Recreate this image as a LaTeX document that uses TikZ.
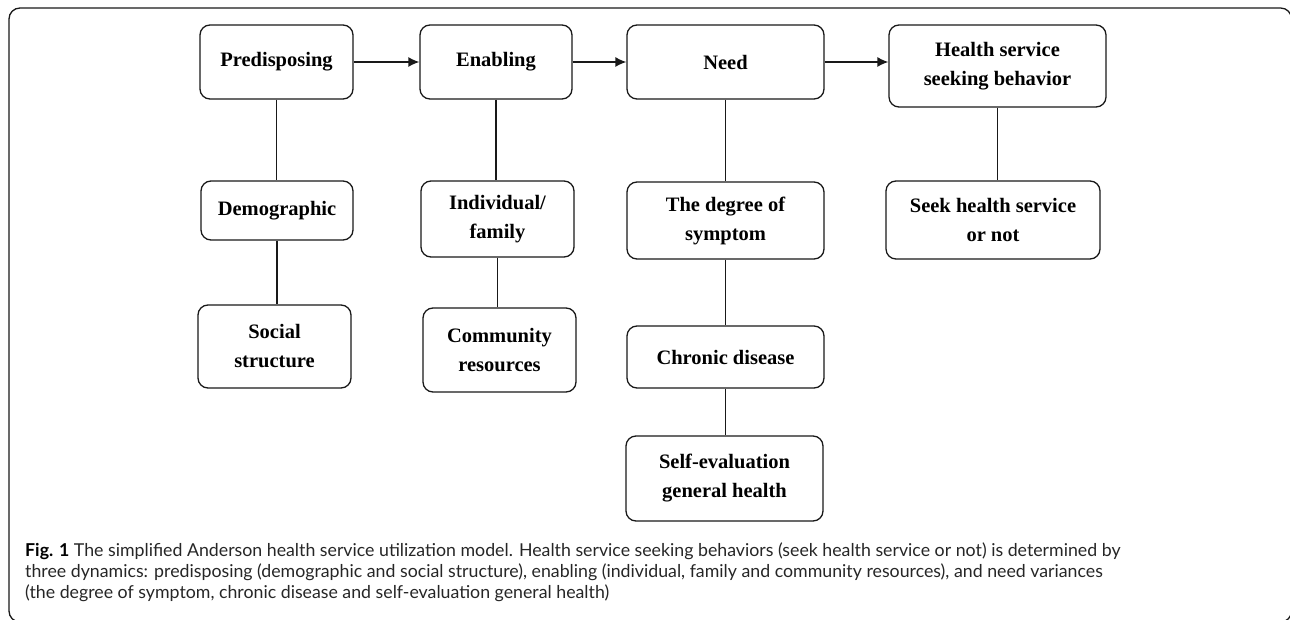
\documentclass[tikz,border=0pt]{standalone}
\usepackage{fontspec}
\setmainfont{Liberation Serif}
\newfontfamily\capfont{Lato}
\usetikzlibrary{arrows.meta}
\begin{document}
\begin{tikzpicture}[x=1pt,y=-1pt,
  box/.style={draw=black!90, line width=1.3pt, rounded corners=10pt, inner sep=0pt, align=center,
    font=\fontsize{20.5}{29}\selectfont\bfseries},
  conn/.style={line width=1.3pt, draw=black!90},
  arr/.style={conn, -{Latex[length=11pt,width=10pt]}},
  captext/.style={anchor=base west, inner sep=0pt, text=black!85, font=\capfont\fontsize{17.75}{21}\selectfont}]
\useasboundingbox (0,0) rectangle (1290,620);
\draw[line width=1.3pt, rounded corners=11pt, draw=black!90] (9,8) rectangle (1291.6,622);
% top row
\node[box, minimum width=153pt, minimum height=74pt] (pre) at (276.5,62) {Predisposing};
\node[box, minimum width=152pt, minimum height=74pt] (ena) at (496,62) {Enabling};
\node[box, minimum width=197pt, minimum height=74pt] (need) at (725.5,62) {Need};
\node[box, minimum width=217pt, minimum height=82pt] (hssb) at (997.5,66) {Health service\\seeking behavior};
% predisposing column
\node[box, minimum width=152pt, minimum height=59pt] (demo) at (277,210.5) {Demographic};
\node[box, minimum width=153pt, minimum height=83pt] (soc) at (274.5,346.5) {Social\\structure};
% enabling column
\node[box, minimum width=153pt, minimum height=76pt] (ind) at (497.5,219) {Individual/\\family};
\node[box, minimum width=153pt, minimum height=84pt] (com) at (499.5,350) {Community\\resources};
% need column
\node[box, minimum width=197pt, minimum height=77pt] (deg) at (725.5,220.5) {The degree of\\symptom};
\node[box, minimum width=197pt, minimum height=62pt] (chr) at (725.5,357) {Chronic disease};
\node[box, minimum width=197pt, minimum height=85pt] (self) at (724.5,478.5) {Self-evaluation\\general health};
% behaviour column
\node[box, minimum width=214pt, minimum height=78pt] (seek) at (993,220) {Seek health service\\or not};
% arrows
\draw[arr] (pre.east) -- (ena.west);
\draw[arr] (ena.east) -- (need.west);
\draw[arr] (need.east) -- (need.east -| hssb.west);
% vertical connectors
\draw[conn] (pre.south) -- (pre.south |- demo.north);
\draw[conn] (demo.south) -- (demo.south |- soc.north);
\draw[conn] (ena.south) -- (ena.south |- ind.north);
\draw[conn] (ind.south) -- (ind.south |- com.north);
\draw[conn] (need.south) -- (need.south |- deg.north);
\draw[conn] (deg.south) -- (deg.south |- chr.north);
\draw[conn] (chr.south) -- (chr.south |- self.north);
\draw[conn] (hssb.south) -- (hssb.south |- seek.north);
% caption
\node[captext] (cap1) at (25,556) {\textbf{\color{black}Fig. 1} The simplified Anderson health service utilization model. Health service seeking behaviors (seek health service or not) is determined by};
\node[captext] (cap2) at (25,577) {three dynamics: predisposing (demographic and social structure), enabling (individual, family and community resources), and need variances};
\node[captext] (cap3) at (25,598) {(the degree of symptom, chronic disease and self-evaluation general health)};
\end{tikzpicture}
\end{document}
